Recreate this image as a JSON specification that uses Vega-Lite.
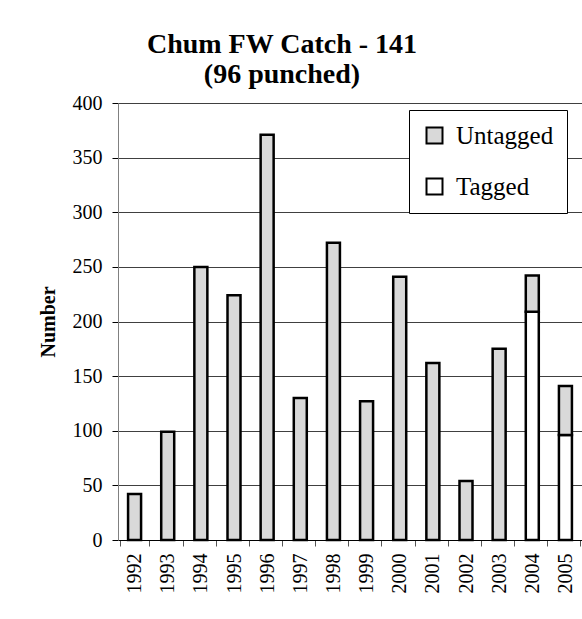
{
  "$schema": "https://vega.github.io/schema/vega-lite/v6.json",
  "autosize": "none",
  "width": 464,
  "height": 437,
  "padding": {"left": 118, "top": 103, "right": 0, "bottom": 79},
  "background": "white",
  "title": {
    "text": ["Chum FW Catch - 141", "(96 punched)"],
    "font": "Liberation Serif",
    "fontSize": 28,
    "fontWeight": "bold",
    "color": "black",
    "lineHeight": 30,
    "anchor": "middle",
    "dx": -68,
    "offset": 4
  },
  "data": {
    "values": [
      {"year": "1992", "status": "Untagged", "count": 42},
      {"year": "1993", "status": "Untagged", "count": 99},
      {"year": "1994", "status": "Untagged", "count": 250},
      {"year": "1995", "status": "Untagged", "count": 224},
      {"year": "1996", "status": "Untagged", "count": 371},
      {"year": "1997", "status": "Untagged", "count": 130},
      {"year": "1998", "status": "Untagged", "count": 272},
      {"year": "1999", "status": "Untagged", "count": 127},
      {"year": "2000", "status": "Untagged", "count": 241},
      {"year": "2001", "status": "Untagged", "count": 162},
      {"year": "2002", "status": "Untagged", "count": 54},
      {"year": "2003", "status": "Untagged", "count": 175},
      {"year": "2004", "status": "Tagged", "count": 209},
      {"year": "2004", "status": "Untagged", "count": 33},
      {"year": "2005", "status": "Tagged", "count": 96},
      {"year": "2005", "status": "Untagged", "count": 45}
    ]
  },
  "mark": {"type": "bar", "size": 13, "stroke": "black", "strokeWidth": 2.5},
  "encoding": {
    "x": {
      "field": "year",
      "type": "ordinal",
      "title": null,
      "axis": {
        "labelAngle": -90,
        "labelFont": "Liberation Serif",
        "labelFontSize": 20,
        "labelColor": "black",
        "labelPadding": 7,
        "tickBand": "extent",
        "tickColor": "#555",
        "tickSize": 6,
        "domainColor": "black",
        "grid": false
      }
    },
    "y": {
      "field": "count",
      "type": "quantitative",
      "stack": "zero",
      "title": "Number",
      "scale": {"domain": [0, 400], "nice": false},
      "axis": {
        "values": [0, 50, 100, 150, 200, 250, 300, 350, 400],
        "labelFont": "Liberation Serif",
        "labelFontSize": 20,
        "labelColor": "black",
        "labelPadding": 10,
        "tickColor": "black",
        "tickSize": 6,
        "domainColor": "#808080",
        "grid": true,
        "gridColor": "#404040",
        "gridWidth": 1,
        "titleFont": "Liberation Serif",
        "titleFontSize": 20,
        "titleFontWeight": "bold",
        "titleColor": "black",
        "titlePadding": 14
      }
    },
    "order": {"field": "status", "sort": "ascending"},
    "color": {
      "field": "status",
      "type": "nominal",
      "scale": {"domain": ["Untagged", "Tagged"], "range": ["#d9d9d9", "#ffffff"]},
      "legend": {
        "title": null,
        "orient": "none",
        "legendX": 291,
        "legendY": 7,
        "symbolType": "square",
        "symbolSize": 256,
        "symbolStrokeColor": "black",
        "symbolStrokeWidth": 2,
        "symbolOpacity": 1,
        "labelFont": "Liberation Serif",
        "labelFontSize": 25,
        "labelColor": "black",
        "labelOffset": 9,
        "rowPadding": 25,
        "padding": 13,
        "strokeColor": "black",
        "fillColor": "white"
      }
    }
  },
  "config": {
    "view": {"stroke": null}
  }
}
